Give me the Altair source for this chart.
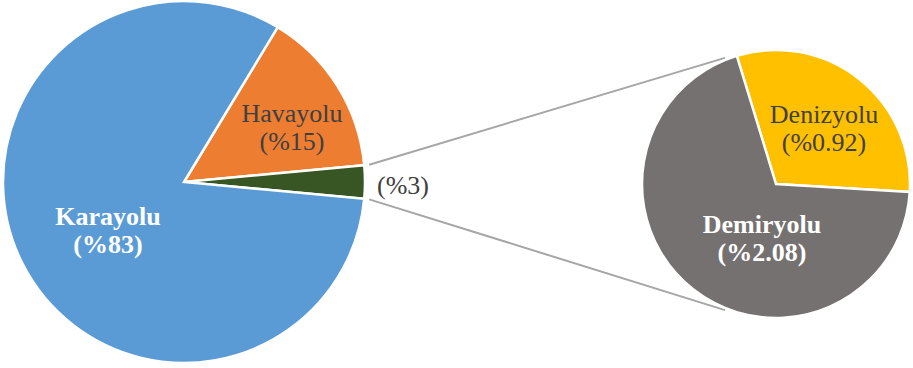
import math
import altair as alt
import pandas as pd

# ---------------- data ----------------
main_cats = ["Havayolu", "Diğer", "Karayolu"]
main_vals = [15, 3, 83]
main_labels = ["Havayolu\n(%15)", "(%3)", "Karayolu\n(%83)"]

sub_cats = ["Denizyolu", "Demiryolu"]
sub_vals = [0.92, 2.08]
sub_labels = ["Denizyolu\n(%0.92)", "Demiryolu\n(%2.08)"]

# ---------------- style / layout ----------------
colors = {"Havayolu": "#ED7D31", "Diğer": "#375623", "Karayolu": "#5B9BD5",
          "Denizyolu": "#FFC000", "Demiryolu": "#767171"}
W, H = 913, 368
L_CX, L_CY, L_R = 184, 182, 181
R_CX, R_CY, R_R = 776, 184, 134
FONT = "Times New Roman, Liberation Serif, serif"
FS = 26
LH = 28

# label anchor (x, baseline y of first line), colour, bold
label_style = {
    "Havayolu": (292, 122, "#404040", "normal"),
    "Diğer": (403, 194, "#404040", "normal"),
    "Karayolu": (108, 225, "#FFFFFF", "bold"),
    "Denizyolu": (824, 123, "#404040", "normal"),
    "Demiryolu": (762, 233, "#FFFFFF", "bold"),
}

# start angles: the small "Diğer" wedge is centred on 3 o'clock
main_total = sum(main_vals)
other_idx = main_cats.index("Diğer")
before = sum(main_vals[:other_idx])
other_mid = (before + main_vals[other_idx] / 2) / main_total * 2 * math.pi
L_START = math.pi / 2 - other_mid
R_START = math.radians(-17)

all_cats = main_cats + sub_cats
color_scale = alt.Scale(domain=all_cats, range=[colors[c] for c in all_cats])

main_df = pd.DataFrame({"cat": main_cats, "val": main_vals, "ord": list(range(len(main_cats)))})
sub_df = pd.DataFrame({"cat": sub_cats, "val": sub_vals, "ord": list(range(len(sub_cats)))})


def pie(df, cx, cy, r, start):
    return alt.Chart(df).mark_arc(radius=r, stroke="white", strokeWidth=2.5).encode(
        theta=alt.Theta("val:Q", stack=True,
                        scale=alt.Scale(range=[start, start + 2 * math.pi])),
        order=alt.Order("ord:Q"),
        color=alt.Color("cat:N", scale=color_scale, legend=None),
        x=alt.value(cx),
        y=alt.value(cy),
    )


left = pie(main_df, L_CX, L_CY, L_R, L_START)
right = pie(sub_df, R_CX, R_CY, R_R, R_START)

# connector lines: from the edges of the small wedge to the sub-pie
a0 = L_START + before / main_total * 2 * math.pi
a1 = a0 + main_vals[other_idx] / main_total * 2 * math.pi
rr = L_R + 5
b_top = math.radians(-22)
b_bot = math.radians(202)
lines_df = pd.DataFrame({
    "x": [L_CX + rr * math.sin(a0), L_CX + rr * math.sin(a1)],
    "y": [L_CY - rr * math.cos(a0), L_CY - rr * math.cos(a1)],
    "x2": [R_CX + (R_R + 2) * math.sin(b_top), R_CX + (R_R + 2) * math.sin(b_bot)],
    "y2": [R_CY - (R_R + 2) * math.cos(b_top), R_CY - (R_R + 2) * math.cos(b_bot)],
})
connectors = alt.Chart(lines_df).mark_rule(color="#A6A6A6", strokeWidth=2).encode(
    x=alt.X("x:Q", scale=None), y=alt.Y("y:Q", scale=None),
    x2="x2:Q", y2="y2:Q",
)

# labels, one row per line
rows = []
for cat, lab in zip(main_cats + sub_cats, main_labels + sub_labels):
    x, y, col, wt = label_style[cat]
    for i, line in enumerate(lab.split("\n")):
        rows.append({"t": line, "x": x, "y": y + i * LH, "col": col, "wt": wt})
lab_df = pd.DataFrame(rows)


def text_layer(weight):
    return alt.Chart(lab_df).transform_filter(
        alt.datum.wt == weight
    ).mark_text(font=FONT, fontSize=FS, fontWeight=weight, align="center",
                baseline="alphabetic").encode(
        x=alt.X("x:Q", scale=None), y=alt.Y("y:Q", scale=None),
        text="t:N", color=alt.Color("col:N", scale=None),
    )


chart = alt.layer(connectors, left, right, text_layer("normal"), text_layer("bold")).resolve_scale(
    theta="independent"
).properties(
    width=W, height=H, padding=0, autosize=alt.AutoSizeParams(type="none"),
    background="white",
).configure_view(stroke=None)

chart.save("out.html", embed_options={"renderer": "svg", "actions": False})
